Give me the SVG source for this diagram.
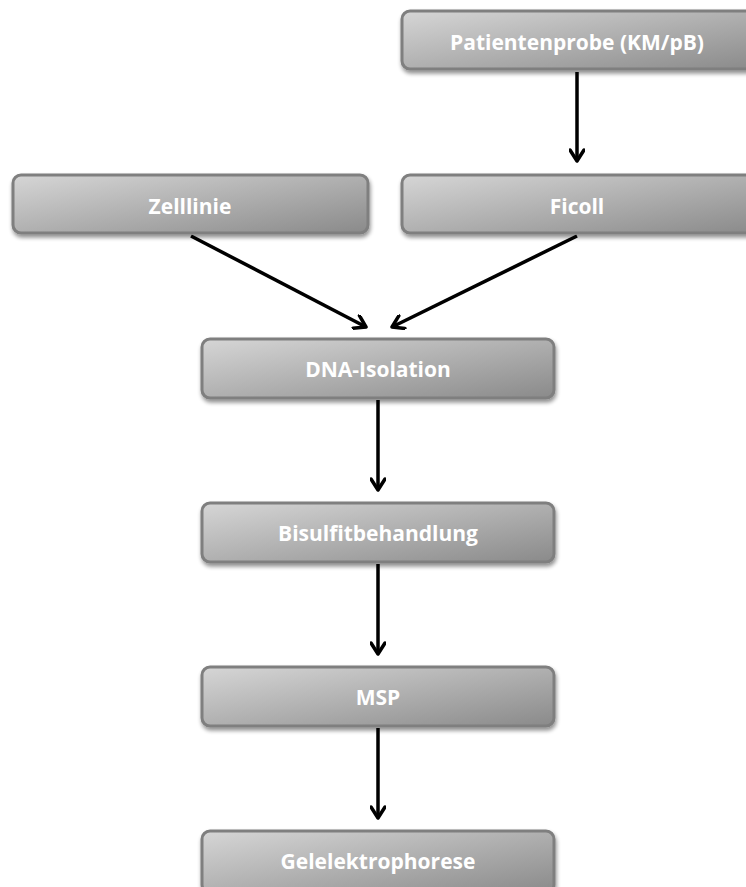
<svg xmlns="http://www.w3.org/2000/svg" width="746" height="887" viewBox="0 0 746 887">
<defs>
<linearGradient id="g" x1="0" y1="0" x2="1" y2="1">
<stop offset="0" stop-color="#d6d6d6"/>
<stop offset="1" stop-color="#8a8a8a"/>
</linearGradient>
<filter id="sh" x="-5%" y="-10%" width="110%" height="130%">
<feGaussianBlur in="SourceAlpha" stdDeviation="2"/>
<feOffset dx="1" dy="3" result="b"/>
<feComponentTransfer><feFuncA type="linear" slope="0.45"/></feComponentTransfer>
<feMerge><feMergeNode/><feMergeNode in="SourceGraphic"/></feMerge>
</filter>
<marker id="ah" markerWidth="16" markerHeight="16" refX="13" refY="8" orient="auto" markerUnits="userSpaceOnUse">
<path d="M2,1 L13,8 L2,15" fill="none" stroke="#000" stroke-width="3.5" stroke-linecap="round" stroke-linejoin="round"/>
</marker>
</defs>
<style>
.box{fill:url(#g);stroke:#7f7f7f;stroke-width:3;filter:url(#sh)}
.lbl{font-family:"Open Sans","Liberation Sans",sans-serif;font-weight:bold;font-size:21px;fill:#fff;text-anchor:middle;dominant-baseline:central}
.c{stroke:#000;stroke-width:3.5;fill:none;marker-end:url(#ah)}
</style>
<g id="connectors">
<line class="c" x1="577" y1="72" x2="577" y2="161"/>
<line class="c" x1="191" y1="236" x2="366" y2="327"/>
<line class="c" x1="577" y1="236" x2="392" y2="327"/>
<line class="c" x1="378" y1="400" x2="378" y2="490"/>
<line class="c" x1="378" y1="564" x2="378" y2="654"/>
<line class="c" x1="378" y1="728" x2="378" y2="818"/>
</g>
<g id="patientenprobe">
<rect class="box" x="402" y="11" width="356" height="58" rx="8"/>
<text class="lbl" x="577" y="42">Patientenprobe (KM/pB)</text>
</g>
<g id="zelllinie">
<rect class="box" x="13" y="175" width="355" height="58" rx="8"/>
<text class="lbl" x="190" y="206">Zelllinie</text>
</g>
<g id="ficoll">
<rect class="box" x="402" y="175" width="356" height="58" rx="8"/>
<text class="lbl" x="577" y="206">Ficoll</text>
</g>
<g id="dna-isolation">
<rect class="box" x="202" y="339" width="352" height="59" rx="8"/>
<text class="lbl" x="378" y="369">DNA-Isolation</text>
</g>
<g id="bisulfitbehandlung">
<rect class="box" x="202" y="503" width="352" height="59" rx="8"/>
<text class="lbl" x="378" y="533">Bisulfitbehandlung</text>
</g>
<g id="msp">
<rect class="box" x="202" y="667" width="352" height="59" rx="8"/>
<text class="lbl" x="378" y="697">MSP</text>
</g>
<g id="gelelektrophorese">
<rect class="box" x="202" y="831" width="352" height="62" rx="8"/>
<text class="lbl" x="378" y="861">Gelelektrophorese</text>
</g>
</svg>
